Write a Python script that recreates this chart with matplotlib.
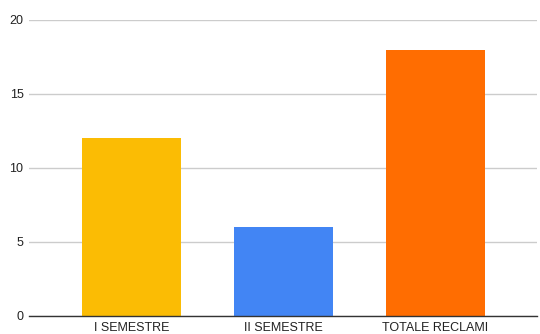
import matplotlib
matplotlib.use("Agg")
from matplotlib import pyplot as plt

categorie = ["I SEMESTRE", "II SEMESTRE", "TOTALE RECLAMI"]
valori = [12, 6, 18]
colori = ["#FBBC04", "#4285F4", "#FF6D01"]
yticks = [0, 5, 10, 15, 20]

plt.rcParams['font.family'] = ['Liberation Sans', 'DejaVu Sans']

fig = plt.figure(figsize=(5.4, 3.34), dpi=100)
ax = fig.add_axes([29/540, 1-316/334, (537-29)/540, (316-20)/334])

x = list(range(len(categorie)))
ax.bar(x, valori, width=0.65, color=colori, zorder=3)

ax.set_ylim(0, 20)
ax.set_xlim(-0.674, 2.668)
ax.set_yticks(yticks)
ax.set_xticks(x)
ax.set_xticklabels(categorie)
ax.grid(axis='y', color='#cccccc', linewidth=1, zorder=0)
for s in ['top', 'right', 'left']:
    ax.spines[s].set_visible(False)
ax.spines['bottom'].set_color('#333333')
ax.spines['bottom'].set_linewidth(1)
ax.spines['bottom'].set_zorder(4)
ax.tick_params(axis='both', length=0, labelsize=9, labelcolor='#222222')
ax.tick_params(axis='y', pad=4)
ax.tick_params(axis='x', pad=4)

fig.savefig("out.png", dpi=100)
